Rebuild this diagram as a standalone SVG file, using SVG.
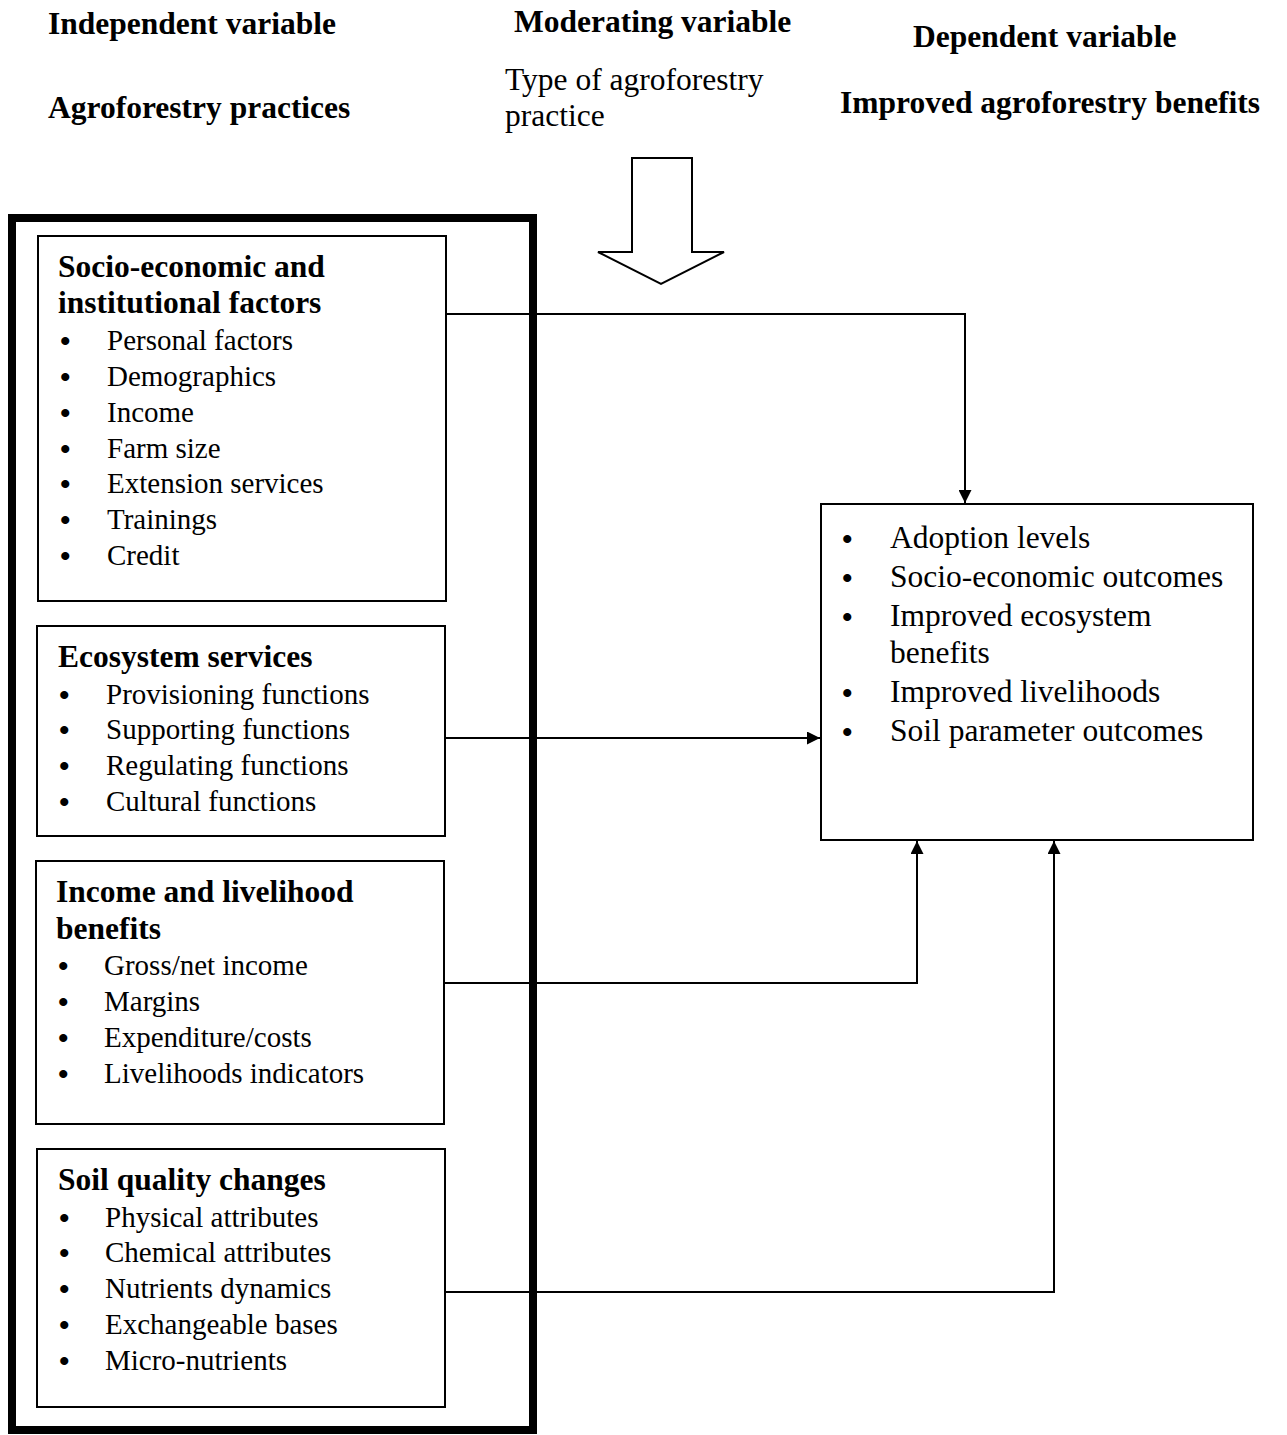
<svg xmlns="http://www.w3.org/2000/svg" width="1287" height="1435" viewBox="0 0 1287 1435">
<style>
.hd{font-family:"Liberation Serif",serif;font-weight:bold;font-size:31.5px;fill:#000}
.mod{font-family:"Liberation Serif",serif;font-size:31.5px;fill:#000}
.tt{font-family:"Liberation Serif",serif;font-weight:bold;font-size:31.5px;fill:#000}
.it{font-family:"Liberation Serif",serif;font-size:29px;fill:#000}
.rt{font-family:"Liberation Serif",serif;font-size:31.5px;fill:#000}
.bu{font-family:"Liberation Serif",serif;font-weight:bold;font-size:30px;fill:#000}
.box{fill:#fff;stroke:#000;stroke-width:2}
.ln{fill:none;stroke:#000;stroke-width:2}
</style>
<defs>
<marker id="ah" viewBox="0 0 10 10" refX="10" refY="5" markerWidth="13" markerHeight="13" markerUnits="userSpaceOnUse" orient="auto">
<path d="M0,0 L10,5 L0,10 z" fill="#000"/>
</marker>
</defs>
<rect width="1287" height="1435" fill="#fff"/>
<g id="headers">
<text class="hd" x="48" y="34">Independent variable</text>
<text class="hd" x="514" y="32">Moderating variable</text>
<text class="hd" x="913" y="47">Dependent variable</text>
<text class="hd" x="48" y="118">Agroforestry practices</text>
<text class="mod" x="505" y="90">Type of agroforestry</text>
<text class="mod" x="505" y="126">practice</text>
<text class="hd" x="840" y="113">Improved agroforestry benefits</text>
</g>
<g id="moderator-arrow">
<path d="M632,158 L692,158 L692,252 L724,252 L661,284 L598,252 L632,252 Z" fill="#fff" stroke="#000" stroke-width="2"/>
</g>
<g id="independent-frame">
<rect x="12" y="218" width="521" height="1212" fill="none" stroke="#000" stroke-width="8"/>
</g>
<g id="node-socio">
<rect class="box" x="38" y="236" width="408" height="365"/>
<text class="tt" x="58" y="277">Socio-economic and</text>
<text class="tt" x="58" y="313">institutional factors</text>
<g class="bu">
<text x="60" y="351">•</text><text x="60" y="387">•</text><text x="60" y="423">•</text><text x="60" y="459">•</text><text x="60" y="494">•</text><text x="60" y="530">•</text><text x="60" y="566">•</text>
</g>
<g class="it">
<text x="107" y="350">Personal factors</text>
<text x="107" y="386">Demographics</text>
<text x="107" y="422">Income</text>
<text x="107" y="458">Farm size</text>
<text x="107" y="493">Extension services</text>
<text x="107" y="529">Trainings</text>
<text x="107" y="565">Credit</text>
</g>
</g>
<g id="node-ecosystem">
<rect class="box" x="37" y="626" width="408" height="210"/>
<text class="tt" x="58" y="667">Ecosystem services</text>
<g class="bu">
<text x="59" y="705">•</text><text x="59" y="740">•</text><text x="59" y="776">•</text><text x="59" y="812">•</text>
</g>
<g class="it">
<text x="106" y="704">Provisioning functions</text>
<text x="106" y="739">Supporting functions</text>
<text x="106" y="775">Regulating functions</text>
<text x="106" y="811">Cultural functions</text>
</g>
</g>
<g id="node-income">
<rect class="box" x="36" y="861" width="408" height="263"/>
<text class="tt" x="56" y="902">Income and livelihood</text>
<text class="tt" x="56" y="939">benefits</text>
<g class="bu">
<text x="58" y="976">•</text><text x="58" y="1012">•</text><text x="58" y="1048">•</text><text x="58" y="1084">•</text>
</g>
<g class="it">
<text x="104" y="975">Gross/net income</text>
<text x="104" y="1011">Margins</text>
<text x="104" y="1047">Expenditure/costs</text>
<text x="104" y="1083">Livelihoods indicators</text>
</g>
</g>
<g id="node-soil">
<rect class="box" x="37" y="1149" width="408" height="258"/>
<text class="tt" x="58" y="1190">Soil quality changes</text>
<g class="bu">
<text x="59" y="1228">•</text><text x="59" y="1263">•</text><text x="59" y="1299">•</text><text x="59" y="1335">•</text><text x="59" y="1371">•</text>
</g>
<g class="it">
<text x="105" y="1227">Physical attributes</text>
<text x="105" y="1262">Chemical attributes</text>
<text x="105" y="1298">Nutrients dynamics</text>
<text x="105" y="1334">Exchangeable bases</text>
<text x="105" y="1370">Micro-nutrients</text>
</g>
</g>
<g id="node-outcomes">
<rect class="box" x="821" y="504" width="432" height="336"/>
<g class="bu">
<text x="842" y="549">•</text><text x="842" y="588">•</text><text x="842" y="627">•</text><text x="842" y="703">•</text><text x="842" y="742">•</text>
</g>
<g class="rt">
<text x="890" y="548">Adoption levels</text>
<text x="890" y="587">Socio-economic outcomes</text>
<text x="890" y="626">Improved ecosystem</text>
<text x="890" y="663">benefits</text>
<text x="890" y="702">Improved livelihoods</text>
<text x="890" y="741">Soil parameter outcomes</text>
</g>
</g>
<g id="connectors">
<path class="ln" d="M446,314 L965,314 L965,503" marker-end="url(#ah)"/>
<path class="ln" d="M445,738 L820,738" marker-end="url(#ah)"/>
<path class="ln" d="M444,983 L917,983 L917,841" marker-end="url(#ah)"/>
<path class="ln" d="M445,1292 L1054,1292 L1054,841" marker-end="url(#ah)"/>
</g>
</svg>
